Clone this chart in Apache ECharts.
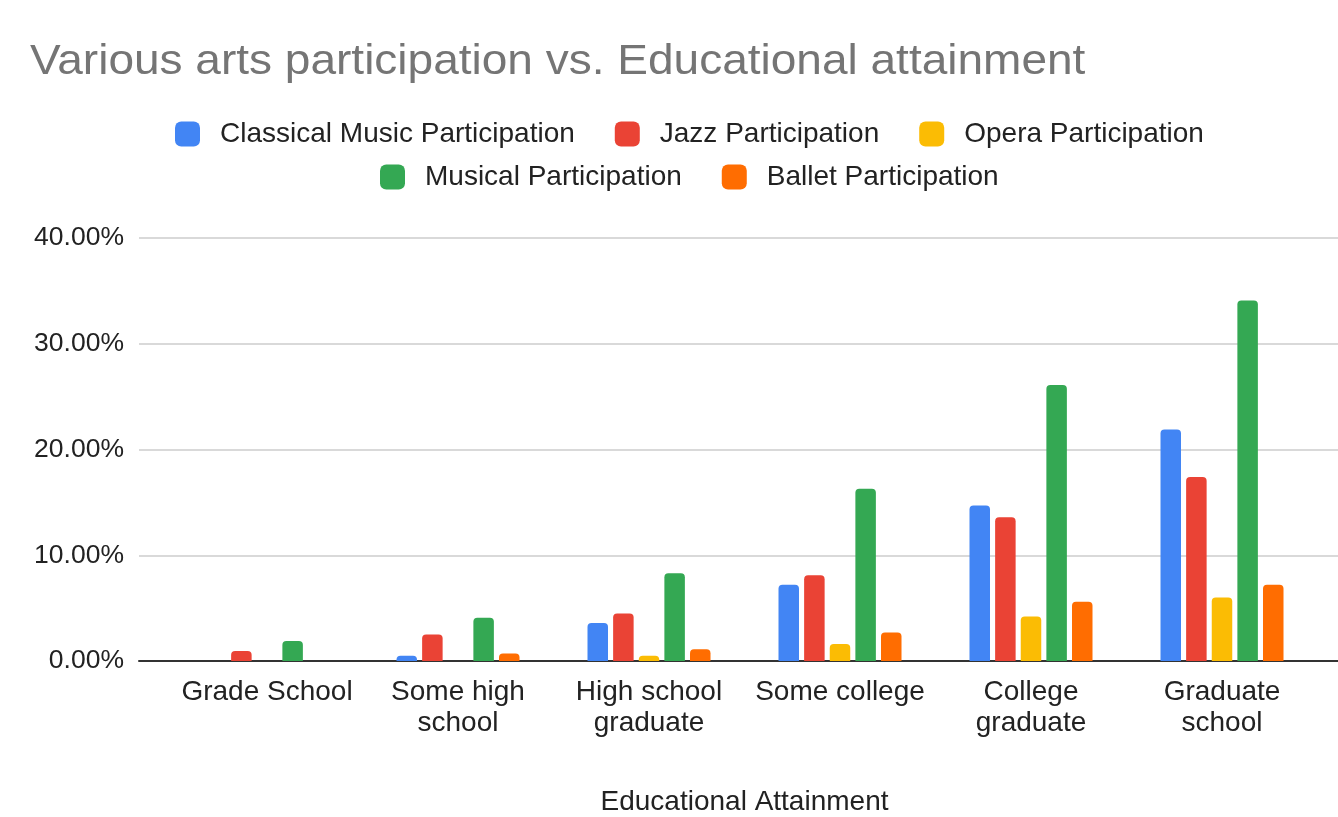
<!DOCTYPE html>
<html>
<head>
<meta charset="utf-8">
<title>Various arts participation vs. Educational attainment</title>
<script src="https://cdn.jsdelivr.net/npm/echarts@6/dist/echarts.min.js"></script>
<style>
  html, body { margin: 0; padding: 0; background: #ffffff; }
  #chart { width: 1338px; height: 817px; }
</style>
</head>
<body>
<div id="chart"></div>
<script>
// Participation rates (percent of each education group)
const categories = ['Grade School', 'Some high\nschool', 'High school\ngraduate', 'Some college', 'College\ngraduate', 'Graduate\nschool'];
const seriesNames = ['Classical Music Participation', 'Jazz Participation', 'Opera Participation', 'Musical Participation', 'Ballet Participation'];
const classicalMusic = [0, 0.5, 3.6, 7.2, 14.7, 21.9];
const jazz = [0.95, 2.5, 4.5, 8.1, 13.6, 17.4];
const opera = [0, 0, 0.5, 1.6, 4.2, 6.0];
const musical = [1.9, 4.1, 8.3, 16.3, 26.1, 34.1];
const ballet = [0, 0.7, 1.1, 2.7, 5.6, 7.2];
const yTicks = [0, 10, 20, 30, 40];

const seriesValues = [classicalMusic, jazz, opera, musical, ballet];
const colors = ['#4285F4', '#EA4335', '#FBBC04', '#34A853', '#FF6D01'];
const FONT = '"Liberation Sans", Arial, sans-serif';

const chart = echarts.init(document.getElementById('chart'), null, { renderer: 'canvas' });

const legendText = { color: '#222222', fontSize: 28, fontFamily: FONT, padding: [0, 0, 0, 15] };

const option = {
  backgroundColor: '#ffffff',
  animation: false,
  color: colors,
  graphic: [{
    type: 'text',
    left: 30,
    top: 41,
    scaleX: 1.07,
    style: {
      text: 'Various arts participation vs. Educational attainment',
      fill: '#757575',
      font: '43px "Liberation Sans", Arial, sans-serif'
    }
  }],
  legend: [
    {
      data: seriesNames.slice(0, 3),
      left: 170, top: 115,
      icon: 'roundRect', itemWidth: 25, itemHeight: 25, itemGap: 40,
      textStyle: legendText
    },
    {
      data: seriesNames.slice(3),
      left: 375, top: 158,
      icon: 'roundRect', itemWidth: 25, itemHeight: 25, itemGap: 40,
      textStyle: legendText
    }
  ],
  grid: [
    // full-width area for gridlines, baseline and value labels
    { left: 139, right: 0, top: 238, bottom: 156, containLabel: false, outerBoundsMode: 'none' },
    // inset area holding the category bands
    { left: 171.5, right: 20.5, top: 238, bottom: 156, containLabel: false, outerBoundsMode: 'none' }
  ],
  xAxis: [
    {
      gridIndex: 0, type: 'value', min: 0, max: 1,
      axisLine: { show: true, lineStyle: { color: '#333333', width: 2 } },
      axisTick: { show: false }, axisLabel: { show: false }, splitLine: { show: false }
    },
    {
      gridIndex: 1, type: 'category', data: categories,
      axisLine: { show: false }, axisTick: { show: false },
      axisLabel: { interval: 0, margin: 16, color: '#222222', fontSize: 28, lineHeight: 31, fontFamily: FONT },
      name: 'Educational Attainment', nameLocation: 'middle', nameGap: 127,
      nameTextStyle: { color: '#222222', fontSize: 28, fontFamily: FONT }
    }
  ],
  yAxis: [
    {
      gridIndex: 0, type: 'value', min: yTicks[0], max: yTicks[yTicks.length - 1], interval: yTicks[1] - yTicks[0],
      axisLine: { show: false }, axisTick: { show: false },
      axisLabel: { margin: 15, color: '#222222', fontSize: 26.5, fontFamily: FONT, formatter: v => v.toFixed(2) + '%' },
      splitLine: { show: true, lineStyle: { color: '#cccccc', width: 1.5 } }
    },
    {
      gridIndex: 1, type: 'value', min: yTicks[0], max: yTicks[yTicks.length - 1],
      show: false, splitLine: { show: false }
    }
  ],
  series: seriesNames.map((name, i) => ({
    name: name,
    type: 'bar',
    xAxisIndex: 1,
    yAxisIndex: 1,
    data: seriesValues[i],
    barWidth: 20.5,
    barGap: '25%',
    itemStyle: { color: colors[i], borderRadius: [4, 4, 0, 0] },
    z: 1
  }))
};

chart.setOption(option);
</script>
</body>
</html>
